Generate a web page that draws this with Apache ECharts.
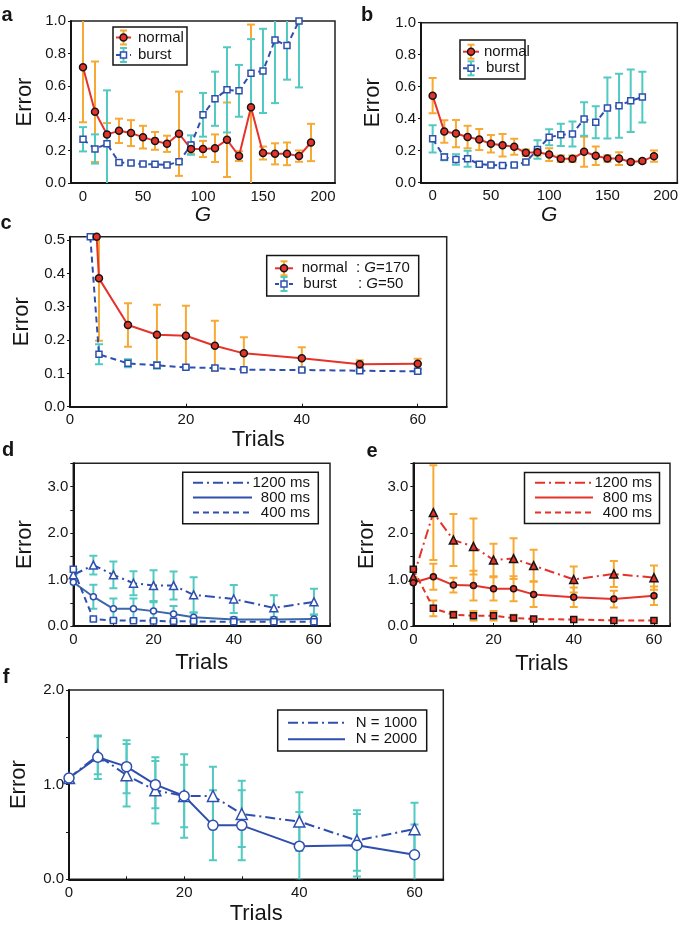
<!DOCTYPE html>
<html><head><meta charset="utf-8">
<script src="https://cdn.jsdelivr.net/npm/echarts@6/dist/echarts.min.js"></script>
<style>html,body{margin:0;padding:0;background:#fff}#c{width:685px;height:928px}</style>
</head><body><div id="c"></div><script>
// ---------- DATA ----------
const aGNormal = [0,10,20,30,40,50,60,70,80,90,100,110,120,130,140,150,160,170,180,190];
const aNormal = [0.715,0.44,0.30,0.322,0.308,0.283,0.26,0.242,0.304,0.21,0.21,0.215,0.267,0.166,0.468,0.185,0.18,0.18,0.166,0.25];
const aNormalErr = [0.34,0.31,0.07,0.075,0.08,0.07,0.055,0.05,0.26,0.03,0.05,0.085,0.23,0.03,0.51,0.04,0.065,0.07,0.035,0.115];
const aGBurst = [0,10,20,30,40,50,60,70,80,90,100,110,120,130,140,150,160,170,180];
const aBurst = [0.27,0.21,0.242,0.127,0.123,0.117,0.115,0.111,0.131,0.234,0.421,0.52,0.575,0.569,0.678,0.692,0.883,0.848,1.0];
const aBurstErr = [0.075,0.09,0.33,0.01,0.01,0.01,0.01,0.01,0.01,0.06,0.135,0.167,0.263,0.16,0.21,0.26,0.39,0.21,0.41];

const bGNormal = aGNormal;
const bNormal = [0.544,0.32,0.307,0.286,0.27,0.243,0.234,0.224,0.187,0.19,0.176,0.15,0.15,0.193,0.168,0.151,0.151,0.129,0.135,0.166];
const bNormalErr = [0.11,0.07,0.085,0.07,0.065,0.055,0.07,0.05,0.02,0.02,0.04,0.02,0.02,0.094,0.058,0.02,0.04,0.01,0.012,0.035];
const bGBurst = aGBurst;
const bBurst = [0.274,0.16,0.145,0.15,0.116,0.11,0.108,0.11,0.129,0.207,0.284,0.299,0.305,0.398,0.378,0.467,0.481,0.512,0.535];
const bBurstErr = [0.085,0.02,0.033,0.05,0.01,0.01,0.01,0.01,0.01,0.058,0.05,0.07,0.078,0.105,0.1,0.19,0.2,0.195,0.158];

const cTrialsNormal = [4.6,5,10,15,20,25,30,40,50,60];
const cNormal = [0.51,0.385,0.245,0.216,0.213,0.183,0.16,0.145,0.127,0.129];
const cNormalErr = [0,0.187,0.065,0.09,0.09,0.075,0.048,0.033,0.012,0.015];
const cTrialsBurst = [3.5,5,10,15,20,25,30,40,50,60];
const cBurst = [0.51,0.157,0.13,0.124,0.118,0.116,0.111,0.11,0.108,0.106];
const cBurstErr = [0,0.03,0.012,0.01,0.005,0.005,0.005,0.005,0.005,0.005];

const trials = [0,5,10,15,20,25,30,40,50,60];
const d1200 = [1.10,1.31,1.10,0.92,0.87,0.87,0.67,0.58,0.39,0.52];
const d1200Err = [0,0.2,0.29,0.26,0.33,0.3,0.38,0.3,0.27,0.28];
const d800 = [0.94,0.63,0.37,0.37,0.32,0.26,0.19,0.14,0.14,0.15];
const d800Err = [0,0.26,0.22,0.22,0.19,0.17,0.1,0.05,0.05,0.1];
const d400 = [1.22,0.15,0.12,0.115,0.11,0.10,0.10,0.09,0.09,0.09];
const d400Err = [0,0.03,0.02,0.02,0.02,0.02,0.02,0.02,0.02,0.02];

const e1200 = [1.05,2.44,1.85,1.71,1.42,1.45,1.3,1.0,1.12,1.04];
const e1200Err = [0,1.02,0.56,0.6,0.35,0.44,0.34,0.28,0.28,0.26];
const e800 = [0.93,1.06,0.88,0.87,0.8,0.8,0.68,0.62,0.58,0.65];
const e800Err = [0,0.28,0.16,0.32,0.25,0.27,0.27,0.21,0.18,0.2];
const e400 = [1.22,0.38,0.24,0.22,0.22,0.17,0.15,0.14,0.12,0.12];
const e400Err = [0,0.17,0.07,0.1,0.1,0.07,0.03,0.02,0.02,0.02];

const f1000 = [1.07,1.31,1.1,0.94,0.88,0.88,0.69,0.61,0.41,0.53];
const f1000Err = [0,0.2,0.33,0.35,0.44,0.31,0.35,0.31,0.32,0.28];
const f2000 = [1.07,1.29,1.19,1.0,0.88,0.57,0.57,0.35,0.36,0.26];
const f2000Err = [0,0.23,0.28,0.25,0.33,0.37,0.37,0.36,0.33,0.32];

// ---------- STYLE ----------
const FONT = 'Liberation Sans, Arial, Helvetica, sans-serif';
const RED = '#e6332a', ORANGE = '#f7a933', TEAL = '#52c9c1', BLUE = '#2f4fae', INK = '#151515';
const DASH = [6,4], DASHDOT = [10,4,2,4];

const grids = [
  {left:71, top:21, width:264, height:162},
  {left:421, top:22.7, width:256.3, height:160},
  {left:70, top:236.7, width:376.7, height:170},
  {left:73.3, top:463.3, width:256.7, height:162.7},
  {left:413.3, top:463.3, width:256.7, height:162.7},
  {left:68.3, top:690, width:375, height:189.3}
].map(g => Object.assign({show:true, borderColor:'#222', borderWidth:1.5, containLabel:false}, g));

function everyFmt(step, dec) {
  return v => (Math.abs(v/step - Math.round(v/step)) < 1e-6 ? (dec ? v.toFixed(dec) : String(Math.round(v))) : '');
}
function xAx(i, min, max, interval, step, name, gap, italic, tick) {
  return {type:'value', gridIndex:i, min, max, interval, splitLine:{show:false},
    axisLine:{onZero:false, lineStyle:{color:INK, width:2}},
    axisTick:{show:!!tick, inside:true, length:3, lineStyle:{color:INK}},
    axisLabel:{formatter:everyFmt(step,0), color:INK, fontSize:15, fontFamily:FONT, margin:6, showMaxLabel:true},
    name, nameLocation:'middle', nameGap:gap,
    nameTextStyle:{fontSize:italic?21:22, fontStyle:italic?'italic':'normal', color:INK, fontFamily:FONT}};
}
function yAx(i, min, max, interval, step, gap) {
  return {type:'value', gridIndex:i, min, max, interval, splitLine:{show:false},
    axisLine:{onZero:false, lineStyle:{color:INK, width:2}},
    axisTick:{show:true, inside:false, length:3, lineStyle:{color:INK}},
    axisLabel:{formatter:everyFmt(step,1), color:INK, fontSize:15, fontFamily:FONT, margin:5, showMaxLabel: max !== 0.51},
    name:'Error', nameLocation:'middle', nameGap:gap,
    nameTextStyle:{fontSize:22, color:INK, fontFamily:FONT}};
}

function errSeries(i, xs, ys, es, color) {
  return {type:'custom', xAxisIndex:i, yAxisIndex:i, z:2, clip:true, silent:true,
    data: xs.map((x,k) => [x, ys[k]-es[k], ys[k]+es[k]]),
    encode:{x:0, y:[1,2]},
    renderItem: (params, api) => {
      const x = api.value(0), lo = api.value(1), hi = api.value(2);
      const p1 = api.coord([x, hi]), p2 = api.coord([x, lo]);
      const st = {stroke:color, lineWidth:2};
      return {type:'group', children:[
        {type:'line', shape:{x1:p1[0], y1:p1[1], x2:p2[0], y2:p2[1]}, style:st},
        {type:'line', shape:{x1:p1[0]-4, y1:p1[1], x2:p1[0]+4, y2:p1[1]}, style:st},
        {type:'line', shape:{x1:p2[0]-4, y1:p2[1], x2:p2[0]+4, y2:p2[1]}, style:st}
      ]};
    }};
}
function lineSeries(i, xs, ys, color, dash, symbol, size, fill, border) {
  return {type:'line', xAxisIndex:i, yAxisIndex:i, z:3, clip:true, silent:true,
    data: xs.map((x,k) => [x, ys[k]]),
    symbol, symbolSize:size, showAllSymbol:true,
    lineStyle:{color, width:2, type:dash},
    itemStyle:{color:fill, borderColor:border, borderWidth:1.5}};
}

const series = [
  errSeries(0, aGNormal, aNormal, aNormalErr, ORANGE),
  errSeries(0, aGBurst, aBurst, aBurstErr, TEAL),
  lineSeries(0, aGBurst, aBurst, BLUE, DASH, 'rect', 6, '#fff', BLUE),
  lineSeries(0, aGNormal, aNormal, RED, 'solid', 'circle', 7, RED, INK),

  errSeries(1, bGNormal, bNormal, bNormalErr, ORANGE),
  errSeries(1, bGBurst, bBurst, bBurstErr, TEAL),
  lineSeries(1, bGBurst, bBurst, BLUE, DASH, 'rect', 6, '#fff', BLUE),
  lineSeries(1, bGNormal, bNormal, RED, 'solid', 'circle', 7, RED, INK),

  errSeries(2, cTrialsNormal, cNormal, cNormalErr, ORANGE),
  errSeries(2, cTrialsBurst, cBurst, cBurstErr, TEAL),
  lineSeries(2, cTrialsBurst, cBurst, BLUE, DASH, 'rect', 6, '#fff', BLUE),
  lineSeries(2, cTrialsNormal, cNormal, RED, 'solid', 'circle', 7, RED, INK),

  errSeries(3, trials, d1200, d1200Err, TEAL),
  errSeries(3, trials, d800, d800Err, TEAL),
  errSeries(3, trials, d400, d400Err, TEAL),
  lineSeries(3, trials, d1200, BLUE, DASHDOT, 'triangle', 8, '#fff', BLUE),
  lineSeries(3, trials, d800, '#3a68a8', 'solid', 'circle', 6, '#fff', BLUE),
  lineSeries(3, trials, d400, BLUE, DASH, 'rect', 6, '#fff', BLUE),

  errSeries(4, trials, e1200, e1200Err, ORANGE),
  errSeries(4, trials, e800, e800Err, ORANGE),
  errSeries(4, trials, e400, e400Err, ORANGE),
  lineSeries(4, trials, e1200, RED, DASHDOT, 'triangle', 8, RED, INK),
  lineSeries(4, trials, e800, RED, 'solid', 'circle', 6, RED, INK),
  lineSeries(4, trials, e400, RED, DASH, 'rect', 6, RED, INK),

  errSeries(5, trials, f1000, f1000Err, TEAL),
  errSeries(5, trials, f2000, f2000Err, TEAL),
  lineSeries(5, trials, f1000, BLUE, DASHDOT, 'triangle', 11, '#fff', BLUE),
  lineSeries(5, trials, f2000, BLUE, 'solid', 'circle', 10, '#fff', BLUE)
];

// ---------- LEGENDS (graphic) ----------
function gText(x, y, text, extra) {
  return {type:'text', silent:true, z:100, style:Object.assign({x, y, text, fill:INK, fontFamily:FONT, fontSize:15, align:'left', verticalAlign:'middle'}, extra||{})};
}
function gLine(x1,y1,x2,y2,stroke,lw,dash) {
  return {type:'line', silent:true, z:100, shape:{x1,y1,x2,y2}, style:{stroke, lineWidth:lw, lineDash:dash||null}};
}
function gBox(x,y,w,h) {
  return {type:'rect', silent:true, z:99, shape:{x,y,width:w,height:h}, style:{fill:'#fff', stroke:INK, lineWidth:1.5}};
}
function gMarker(kind, cx, cy, s, fill, stroke) {
  if (kind === 'circle') return {type:'circle', silent:true, z:101, shape:{cx, cy, r:s/2}, style:{fill, stroke, lineWidth:1.5}};
  if (kind === 'rect') return {type:'rect', silent:true, z:101, shape:{x:cx-s/2, y:cy-s/2, width:s, height:s}, style:{fill, stroke, lineWidth:1.5}};
}
function gErr(cx, cy, color) {
  return [gLine(cx, cy-7, cx, cy+7, color, 2), gLine(cx-3.5, cy-7, cx+3.5, cy-7, color, 2), gLine(cx-3.5, cy+7, cx+3.5, cy+7, color, 2)];
}
function nbLegend(box, rows, lx1, lx2) {
  const cx = (lx1+lx2)/2;
  const el = [gBox(...box)];
  el.push(...gErr(cx, rows[0], ORANGE), gLine(lx1, rows[0], lx2, rows[0], RED, 2), gMarker('circle', cx, rows[0], 7, RED, INK));
  el.push(...gErr(cx, rows[1], TEAL), gLine(lx1, rows[1], lx2, rows[1], BLUE, 2, [4,3]), gMarker('rect', cx, rows[1], 6, '#fff', BLUE));
  return el;
}
function styleLegend(box, rows, lx1, lx2, tx, color, labels, dashes) {
  const el = [gBox(...box)];
  rows.forEach((y,k) => {
    el.push(gLine(lx1, y, lx2, y, color, 2, dashes[k]));
    el.push(gText(tx, y, labels[k], {align:'right', fontSize:15}));
  });
  return el;
}
const italicRich = {n:{fontFamily:FONT, fontSize:15, fill:INK}, i:{fontFamily:FONT, fontSize:15, fontStyle:'italic', fill:INK}};

let graphics = [];
graphics.push(...nbLegend([113,27,74,38], [37.5,55], 116, 131));
graphics.push(gText(138, 37.5, 'normal'), gText(138, 55, 'burst'));
graphics.push(...nbLegend([460,40,65,39], [51.7,68.3], 463, 479));
graphics.push(gText(484, 51.7, 'normal'), gText(486, 68.3, 'burst'));
graphics.push(...nbLegend([266.7,255.5,152,40.5], [268.3,284], 275, 293));
graphics.push(gText(301.7, 268.3, 'normal'), gText(303.3, 284, 'burst'));
graphics.push({type:'text', silent:true, z:100, style:{x:356, y:268.3, verticalAlign:'middle', text:'{n|: }{i|G}{n|=170}', rich:italicRich}});
graphics.push({type:'text', silent:true, z:100, style:{x:358, y:284, verticalAlign:'middle', text:'{n|: }{i|G}{n|=50}', rich:italicRich}});
const msLabels = ['1200 ms', '800 ms', '400 ms'];
graphics.push(...styleLegend([182.7,472.3,135.6,51.5], [482.7,497.5,512.5], 193, 252, 310, BLUE, msLabels, [DASHDOT, null, DASH]));
graphics.push(...styleLegend([524.5,472.5,135,51], [482.7,497.5,512.5], 535, 593, 652, RED, msLabels, [DASHDOT, null, DASH]));
graphics.push(...styleLegend([277.7,710,149,41], [722.7,739.3], 288, 345, 417, BLUE, ['N = 1000','N = 2000'], [DASHDOT, null]));
[['a',7,15],['b',367,15],['c',6,223],['d',8,450],['e',372,451],['f',6,677]].forEach(([t,x,y]) =>
  graphics.push(gText(x, y, t, {fontSize:20, fontWeight:'bold', align:'center'})));

const option = {
  animation:false,
  backgroundColor:'#fff',
  grid: grids,
  xAxis: [
    xAx(0, -10, 210, 10, 50, 'G', 22, true, false),
    xAx(1, -10, 210, 10, 50, 'G', 22, true, false),
    xAx(2, 0, 65, 20, 20, 'Trials', 19, false, true),
    xAx(3, 0, 64, 10, 20, 'Trials', 26, false, true),
    xAx(4, 0, 64, 10, 20, 'Trials', 27, false, true),
    xAx(5, 0, 65, 10, 20, 'Trials', 24, false, true)
  ],
  yAxis: [
    yAx(0, 0, 1, 0.2, 0.2, 35),
    yAx(1, 0, 1, 0.2, 0.2, 37),
    yAx(2, 0, 0.51, 0.1, 0.1, 32),
    yAx(3, 0, 3.5, 0.5, 1, 37),
    yAx(4, 0, 3.5, 0.5, 1, 35),
    yAx(5, 0, 2, 0.5, 1, 39)
  ],
  series,
  graphic: {elements: graphics}
};
option.yAxis[2].axisLabel.formatter = v => v.toFixed(1);
option.yAxis[0].axisLabel.formatter = v => v.toFixed(1);
option.yAxis[1].axisLabel.formatter = v => v.toFixed(1);

const chart = echarts.init(document.getElementById('c'), null, {renderer:'canvas'});
chart.setOption(option);
</script></body></html>
